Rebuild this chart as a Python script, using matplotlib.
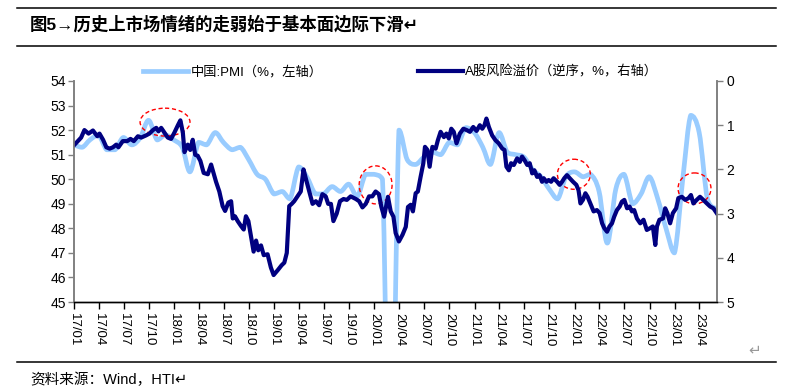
import pandas as pd
import matplotlib
matplotlib.use('Agg')
import matplotlib.pyplot as plt
import matplotlib.dates as mdates
from matplotlib.path import Path
from matplotlib.patches import PathPatch, Ellipse
from matplotlib.lines import Line2D

plt.rcParams['font.family'] = ['Liberation Sans', 'Noto Sans CJK SC', 'DejaVu Sans']

PMI_COLOR = '#99CCFF'
ERP_COLOR = '#000080'

# ===================== 数据 =====================
# 中国 PMI（月度，月末）
pmi_start = '2016-12-01'
pmi_values = [51.4,
              51.3, 51.6, 51.8, 51.2, 51.2, 51.7, 51.4, 51.7, 52.4, 51.6, 51.8, 51.6,
              51.3, 50.3, 51.5, 51.4, 51.9, 51.5, 51.2, 51.3, 50.8, 50.2, 50.0, 49.4,
              49.5, 49.2, 50.5, 50.1, 49.4, 49.4, 49.7, 49.5, 49.8, 49.3, 50.2, 50.2,
              50.0, 35.7, 52.0, 50.8, 50.6, 50.9, 51.1, 51.0, 51.5, 51.4, 52.1, 51.9,
              51.3, 50.6, 51.9, 51.1, 51.0, 50.9, 50.4, 50.1, 49.6, 49.2, 50.1, 50.3,
              50.1, 50.2, 49.5, 47.4, 49.6, 50.2, 49.0, 49.4, 50.1, 49.2, 48.0, 47.0,
              50.1, 52.6, 51.9, 49.2, 48.8]

# A股风险溢价（%，右轴逆序）
erp_dates = [
    '2017-01-03', '2017-01-27', '2017-02-08', '2017-02-23', '2017-03-11', '2017-03-27', '2017-04-04',
    '2017-04-17', '2017-04-29', '2017-05-11', '2017-05-23', '2017-06-04', '2017-06-12', '2017-06-28',
    '2017-07-14', '2017-07-26', '2017-08-07', '2017-08-22', '2017-09-03', '2017-09-21', '2017-10-03',
    '2017-10-16', '2017-10-28', '2017-11-05', '2017-11-15', '2017-11-27', '2017-12-09', '2017-12-21',
    '2018-01-02', '2018-01-15', '2018-01-24', '2018-02-02', '2018-02-08', '2018-02-20', '2018-03-01',
    '2018-03-10', '2018-03-19', '2018-03-28', '2018-04-07', '2018-04-19', '2018-05-04', '2018-05-16',
    '2018-05-26', '2018-06-03', '2018-06-15', '2018-06-27', '2018-07-06', '2018-07-18', '2018-07-28',
    '2018-08-03', '2018-08-11', '2018-08-21', '2018-09-02', '2018-09-12', '2018-09-20', '2018-09-29',
    '2018-10-08', '2018-10-18', '2018-10-27', '2018-11-04', '2018-11-14', '2018-11-24', '2018-12-08',
    '2018-12-20', '2018-12-30',
    '2019-01-14', '2019-01-28', '2019-02-07', '2019-02-16', '2019-02-25', '2019-03-06', '2019-03-15',
    '2019-03-27', '2019-04-08', '2019-04-18', '2019-04-27', '2019-05-09', '2019-05-21', '2019-06-02',
    '2019-06-14', '2019-06-26', '2019-07-08', '2019-07-17', '2019-07-27', '2019-08-05', '2019-08-17',
    '2019-08-29', '2019-09-11', '2019-09-23', '2019-10-07', '2019-10-26', '2019-11-07', '2019-11-19',
    '2019-12-01', '2019-12-13', '2019-12-25',
    '2020-01-06', '2020-01-18', '2020-01-27', '2020-02-06', '2020-02-20', '2020-03-01', '2020-03-11',
    '2020-03-19', '2020-03-31', '2020-04-13', '2020-04-25', '2020-05-03', '2020-05-13', '2020-05-21',
    '2020-05-31', '2020-06-08', '2020-06-18', '2020-06-28', '2020-07-04', '2020-07-13', '2020-07-21',
    '2020-07-31', '2020-08-12', '2020-08-20', '2020-08-30', '2020-09-11', '2020-09-20', '2020-09-29',
    '2020-10-08', '2020-10-17', '2020-10-27', '2020-11-08', '2020-11-21', '2020-12-03', '2020-12-15',
    '2020-12-27',
    '2021-01-08', '2021-01-20', '2021-01-29', '2021-02-06', '2021-02-13', '2021-02-22', '2021-03-06',
    '2021-03-18', '2021-03-30', '2021-04-12', '2021-04-20', '2021-04-27', '2021-05-06', '2021-05-14',
    '2021-05-24', '2021-06-05', '2021-06-15', '2021-06-23', '2021-07-02', '2021-07-12', '2021-07-21',
    '2021-07-30', '2021-08-07', '2021-08-17', '2021-08-26', '2021-09-04', '2021-09-10', '2021-09-20',
    '2021-09-28', '2021-10-07', '2021-10-16', '2021-10-29', '2021-11-07', '2021-11-16', '2021-11-24',
    '2021-12-04', '2021-12-14', '2021-12-26',
    '2022-01-07', '2022-01-15', '2022-01-22', '2022-01-31', '2022-02-09', '2022-02-17', '2022-02-27',
    '2022-03-11', '2022-03-23', '2022-04-02', '2022-04-11', '2022-04-19', '2022-04-29', '2022-05-08',
    '2022-05-17', '2022-05-25', '2022-06-04', '2022-06-14', '2022-06-22', '2022-07-01', '2022-07-11',
    '2022-07-20', '2022-07-29', '2022-08-06', '2022-08-16', '2022-08-28', '2022-09-09', '2022-09-21',
    '2022-10-03', '2022-10-13', '2022-10-22', '2022-10-28', '2022-11-06', '2022-11-19', '2022-11-27',
    '2022-12-05', '2022-12-15', '2022-12-25',
    '2023-01-06', '2023-01-14', '2023-01-27', '2023-02-08', '2023-02-20', '2023-03-01', '2023-03-10',
    '2023-03-22', '2023-04-03', '2023-04-15', '2023-04-28', '2023-05-10', '2023-05-22', '2023-06-03']
erp_values = [
    1.44, 1.28, 1.11, 1.19, 1.12, 1.25, 1.19, 1.33, 1.50, 1.53, 1.50, 1.44, 1.50, 1.36,
    1.36, 1.31, 1.36, 1.25, 1.28, 1.23, 1.19, 1.11, 1.06, 1.14, 1.06, 1.17, 1.28, 1.31,
    1.17, 1.00, 0.89, 1.17, 1.61, 1.44, 1.56, 1.33, 1.67, 1.69, 1.81, 2.08, 2.11, 1.89,
    2.11, 2.28, 2.50, 2.83, 2.94, 2.75, 2.72, 3.11, 3.06, 3.17, 3.28, 3.36, 3.06, 3.17,
    3.50, 3.86, 3.61, 3.83, 3.72, 3.94, 3.92, 4.22, 4.39,
    4.28, 4.17, 4.11, 3.89, 2.83, 2.78, 2.72, 2.61, 2.50, 2.00, 2.22, 2.50, 2.78, 2.72,
    2.81, 2.56, 2.61, 2.78, 2.78, 3.17, 3.00, 2.72, 2.67, 2.69, 2.61, 2.67, 2.72, 2.86,
    2.78, 2.61, 2.61,
    2.50, 2.56, 2.85, 3.07, 2.62, 2.95, 3.07, 3.44, 3.63, 3.48, 3.30, 2.85, 2.80, 2.95,
    2.54, 2.50, 2.17, 1.86, 1.49, 1.56, 1.94, 1.49, 1.53, 1.34, 1.15, 1.27, 1.19, 1.30,
    1.08, 1.15, 1.41, 1.19, 1.08, 1.11, 1.15, 1.04,
    1.13, 1.00, 1.08, 1.00, 0.85, 1.04, 1.23, 1.34, 1.41, 1.53, 1.56, 1.94, 2.02, 1.86,
    1.90, 1.75, 1.83, 1.71, 1.79, 1.90, 1.86, 2.09, 2.02, 2.17, 2.13, 2.28, 2.20, 2.28,
    2.24, 2.28, 2.20, 2.28, 2.35, 2.28, 2.20, 2.13, 2.20, 2.28,
    2.35, 2.47, 2.77, 2.69, 2.54, 2.62, 2.77, 2.95, 2.92, 2.99, 3.22, 3.33, 3.41, 3.29,
    3.22, 3.07, 2.92, 2.84, 2.73, 2.69, 2.88, 2.84, 2.95, 2.92, 3.11, 3.22, 3.14, 3.37,
    3.33, 3.29, 3.71, 3.29, 3.14, 3.11, 2.88, 2.99, 3.22, 2.99,
    2.88, 2.65, 2.62, 2.69, 2.65, 2.58, 2.77, 2.69, 2.62, 2.69, 2.77, 2.84, 2.88, 2.99]

# 红色虚线圈：中心日期、右轴中心值、宽度（天）、高度
circle_dates = ['2017-11-29', '2020-01-06', '2021-12-29', '2023-03-14']
circle_values = [0.93, 2.35, 2.11, 2.43]
circle_widths = [182, 120, 120, 120]
circle_heights = [0.63, 0.86, 0.68, 0.70]

pmi_label = '中国:PMI（%，左轴）'
erp_label = 'A股风险溢价（逆序，%，右轴）'
title = '图5→历史上市场情绪的走弱始于基本面边际下滑↵'
source = '资料来源：Wind，HTI↵'


def smooth_path(xs, ys):
    # Excel 式平滑折线（贝塞尔曲线），控制点不超出相邻两点范围
    n = len(xs)
    verts = [(xs[0], ys[0])]
    codes = [Path.MOVETO]
    for i in range(n - 1):
        x0, y0 = (xs[i - 1], ys[i - 1]) if i > 0 else (xs[i], ys[i])
        x3, y3 = (xs[i + 2], ys[i + 2]) if i + 2 < n else (xs[i + 1], ys[i + 1])
        lo, hi = min(ys[i], ys[i + 1]), max(ys[i], ys[i + 1])
        c1y = min(max(ys[i] + (ys[i + 1] - y0) / 6, lo), hi)
        c2y = min(max(ys[i + 1] - (y3 - ys[i]) / 6, lo), hi)
        c1 = (xs[i] + (xs[i + 1] - x0) / 6, c1y)
        c2 = (xs[i + 1] - (x3 - xs[i]) / 6, c2y)
        verts += [c1, c2, (xs[i + 1], ys[i + 1])]
        codes += [Path.CURVE4] * 3
    return Path(verts, codes)


pmi_dates = pd.date_range(pmi_start, periods=len(pmi_values), freq='MS') + pd.offsets.MonthEnd(0)
pmi_x = mdates.date2num(pmi_dates.to_pydatetime())
erp_x = pd.to_datetime(erp_dates)

# ===================== 图形 =====================
fig = plt.figure(figsize=(7.99, 3.91), dpi=100)
ax = fig.add_axes([74 / 799, 1 - 302 / 391, (717 - 74) / 799, (302 - 81) / 391])
ax2 = ax.twinx()

ax.xaxis_date()
ax.add_patch(PathPatch(smooth_path(pmi_x, pmi_values), fill=False, edgecolor=PMI_COLOR,
                       lw=3.4, joinstyle='round', capstyle='round'))
ax2.plot(erp_x, erp_values, color=ERP_COLOR, lw=3.0, solid_joinstyle='round')

for d, v, w, h in zip(circle_dates, circle_values, circle_widths, circle_heights):
    ax2.add_patch(Ellipse((mdates.date2num(pd.Timestamp(d)), v), w, h, fill=False,
                          edgecolor='#FF0000', lw=1.0, linestyle=(0, (3, 2))))

ax.set_xlim(pd.Timestamp('2017-01-01'), pd.Timestamp('2023-06-04'))
ax.set_ylim(45, 54)
ax.set_yticks(range(45, 55))
ax2.set_ylim(5, 0)
ax2.set_yticks(range(0, 6))

ax.xaxis.set_major_locator(mdates.MonthLocator(bymonth=[1, 4, 7, 10]))
ax.xaxis.set_major_formatter(mdates.DateFormatter('%y/%m'))
ax.tick_params(axis='x', rotation=-90, labelsize=9.5, length=5, width=1, color='black', pad=3)
ax.tick_params(axis='y', labelsize=10, length=4, width=1, color='#808080', pad=2)
ax2.tick_params(axis='y', labelsize=10, length=4, width=1, color='#808080', pad=3)
for lab in ax.get_xticklabels():
    lab.set_va('top')
    lab.set_ha('center')

for a in (ax, ax2):
    a.spines['top'].set_visible(False)
    a.spines['left'].set_color('#808080')
    a.spines['right'].set_color('#808080')
    a.spines['bottom'].set_color('black')
    a.spines['left'].set_linewidth(1.2)
    a.spines['right'].set_linewidth(1.2)
    a.spines['bottom'].set_linewidth(1.0)

handles = [Line2D([], [], color=PMI_COLOR, lw=3.4), Line2D([], [], color=ERP_COLOR, lw=3.0)]
ax2.legend(handles, [pmi_label, erp_label], ncol=2, loc='center',
           bbox_to_anchor=(0.508, 1.041), frameon=False, fontsize=9.5,
           handlelength=3.4, handletextpad=0.2, columnspacing=7.2, borderpad=0)

# 标题与来源
fig.add_artist(Line2D([17 / 799, 776 / 799], [1 - 8 / 391] * 2, transform=fig.transFigure,
                      color='black', lw=1.1))
fig.add_artist(Line2D([17 / 799, 776 / 799], [1 - 46 / 391] * 2, transform=fig.transFigure,
                      color='black', lw=1.1))
fig.text(30 / 799, 1 - 24 / 391, title, fontsize=12.5, fontweight='bold', va='center', ha='left')
fig.add_artist(Line2D([17 / 799, 776 / 799], [1 - 362 / 391] * 2, transform=fig.transFigure,
                      color='black', lw=1.1))
fig.text(30 / 799, 1 - 380 / 391, source, fontsize=10.5, va='center', ha='left')
fig.text(755 / 799, 1 - 350 / 391, '↵', fontsize=11, color='#999999', va='center', ha='center')

fig.savefig('out.png', dpi=100)
